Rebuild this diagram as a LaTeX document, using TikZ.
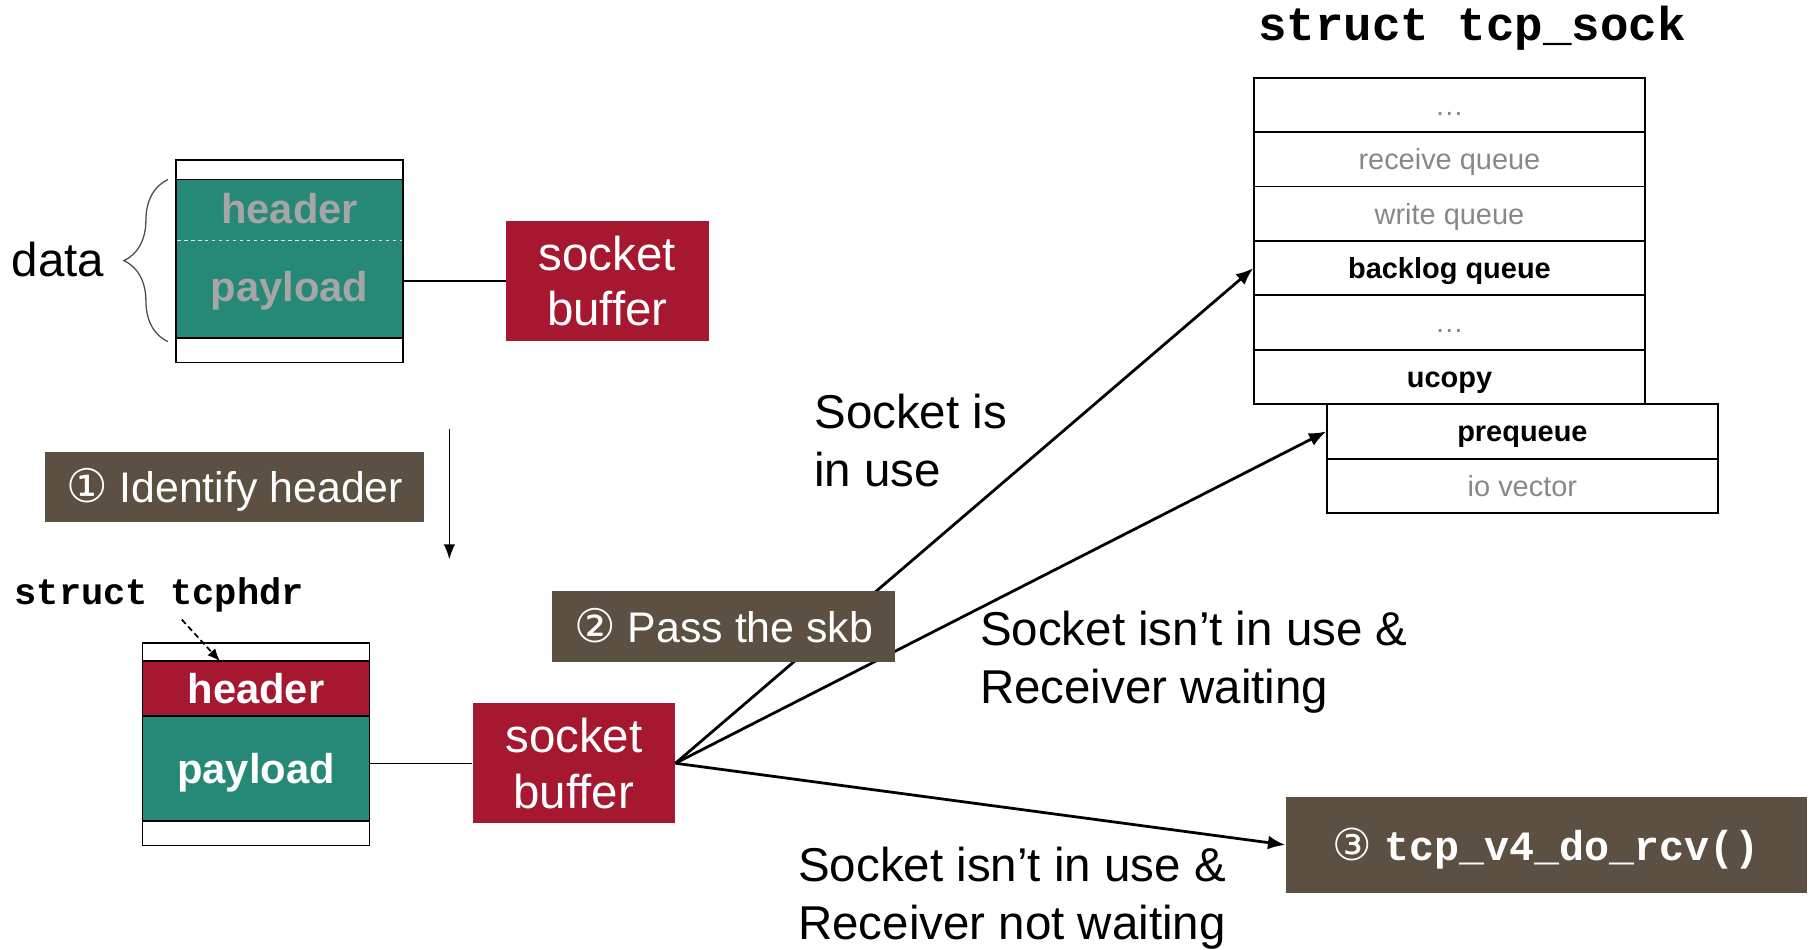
\documentclass[tikz,border=0pt]{standalone}
\usepackage{fontspec}
\setmainfont{Liberation Sans}
\setmonofont{Liberation Mono}
\newfontfamily\circfont{DejaVu Sans}
\usetikzlibrary{arrows.meta,decorations.pathreplacing}
\definecolor{tealc}{HTML}{268877}
\definecolor{crim}{HTML}{A51830}
\definecolor{brn}{HTML}{5C5042}
\definecolor{gtxt}{HTML}{888888}
\definecolor{htxt}{HTML}{A6A6A6}
\tikzset{
  cell/.style={draw=black, line width=1.6pt, inner sep=0pt, minimum width=196pt},
  celltext/.style={font=\fontsize{36}{40}\selectfont\bfseries, text height=26pt, text depth=0pt},
  trow/.style={draw=black, line width=1.6pt, inner sep=0pt, minimum width=337pt, minimum height=47pt, text height=18pt, text depth=0pt, font=\fontsize{25}{30}\selectfont},
  grayrow/.style={trow, text=gtxt},
  boldrow/.style={trow, font=\fontsize{25}{30}\selectfont\bfseries},
  sockbuf/.style={fill=crim, text=white, inner sep=0pt, minimum width=175pt, minimum height=104pt, align=center, font=\fontsize{41}{48}\selectfont},
  stepbox/.style={fill=brn, text=white, inner sep=0pt, text height=27pt, text depth=0pt, font=\fontsize{37}{44}\selectfont},
  lbl/.style={anchor=west, inner sep=0pt, align=left, font=\fontsize{41}{50}\selectfont},
  code/.style={inner sep=0pt, font=\ttfamily\bfseries},
  bigarrow/.style={line width=2.4pt, -{Latex[length=15pt,width=12pt]}},
}
\begin{document}
\begin{tikzpicture}[x=1pt,y=-1pt]
\useasboundingbox (0,0) rectangle (1568,820);

% ---- top data box ----
\node[cell, minimum height=17pt, fill=white] (tw1) at (250,146.5) {};
\node[cell, minimum height=137pt, fill=tealc] (tg) at (250,223.5) {};
\node[cell, minimum height=21pt, fill=white] (tw2) at (250,302.5) {};
\coordinate (dl1) at (153,208);
\coordinate (dl2) at (347,208);
\draw[white!80!gray, dashed, line width=1pt] (dl1) -- (dl2);
\node[celltext, text=htxt] (th) at (250,180) {header};
\node[celltext, text=htxt] (tp) at (250,247) {payload};

\node[inner sep=0pt, font=\fontsize{41}{48}\selectfont] (data) at (50,224) {data};
\coordinate (bB) at (145,295);
\coordinate (bT) at (145,155);
\draw[decorate, decoration={brace, amplitude=38pt, aspect=0.5}, draw=black!70, line width=1.1pt] (bB) -- (bT);

\node[sockbuf, minimum height=103pt] (sb1) at (524.5,242.5) {socket\\buffer};
\draw[line width=1.2pt] (tg.east |- sb1.west) -- (sb1.west);

% ---- step 1 ----
\node[stepbox, minimum width=327pt, minimum height=61pt] (s1) at (202.5,420.5) {{\circfont\fontsize{40}{44}\selectfont ①} Identify header};
\coordinate (va1) at (388,370);
\coordinate (va2) at (388,483);
\draw[line width=1.5pt, -{Latex[length=13pt,width=10pt]}] (va1) -- (va2);

% ---- bottom struct ----
\node[code, font=\fontsize{32}{36}\selectfont\ttfamily\bfseries] (tcphdr) at (137.5,514) {struct tcphdr};
\node[cell, minimum height=16pt, fill=white] (bw1) at (221,563) {};
\node[cell, celltext, minimum height=47pt, fill=crim, text=white] (bh) at (221,594.5) {header};
\node[cell, celltext, minimum height=91pt, fill=tealc, text=white] (bp) at (221,663.5) {payload};
\node[cell, minimum height=21pt, fill=white] (bw2) at (221,719.5) {};
\coordinate (da1) at (157,535);
\coordinate (da2) at (190,571);
\draw[line width=1.5pt, dash pattern=on 5pt off 3pt, -{Latex[length=11pt,width=9pt]}] (da1) -- (da2);

\node[sockbuf] (sb2) at (495.5,659) {socket\\buffer};
\draw[line width=1.2pt] (bp.east |- sb2.west) -- (sb2.west);

% ---- tcp_sock table ----
\node[code, font=\fontsize{41}{46}\selectfont\ttfamily\bfseries] (title) at (1271,24) {struct tcp\_sock};
\node[grayrow] (r1) at (1251.5,90.5) {…};
\node[grayrow] (r2) at (1251.5,137.5) {receive queue};
\node[grayrow] (r3) at (1251.5,184.5) {write queue};
\node[boldrow] (r4) at (1251.5,231.5) {backlog queue};
\node[grayrow] (r5) at (1251.5,278.5) {…};
\node[boldrow] (r6) at (1251.5,325.5) {ucopy};
\node[boldrow] (p1) at (1314.5,372.5) {prequeue};
\node[grayrow] (p2) at (1314.5,419.5) {io vector};

% ---- step 3 box ----
\node[stepbox, minimum width=450pt, minimum height=83pt, font=\fontsize{36}{40}\selectfont] (rcv) at (1335,729.5) {{\circfont\fontsize{38}{40}\selectfont ③} {\ttfamily\bfseries tcp\_v4\_do\_rcv()}};

% ---- connectors ----
\draw[bigarrow] (sb2.east) -- (r4.west);
\draw[bigarrow] (sb2.east) -- (p1.west);
\draw[bigarrow] (sb2.east) -- (rcv.west);

% ---- step 2 box (on top of lines) ----
\node[stepbox, minimum width=296pt, minimum height=62pt] (s2) at (625,541) {{\circfont\fontsize{40}{44}\selectfont ②} Pass the skb};

% ---- labels ----
\node[lbl] (l1) at (703,380) {Socket is\\in use};
\node[lbl] (l2) at (846,571.5) {Socket isn’t in use \&\\Receiver waiting};
\node[lbl] (l3) at (689,775.5) {Socket isn’t in use \&\\Receiver not waiting};
\end{tikzpicture}
\end{document}
